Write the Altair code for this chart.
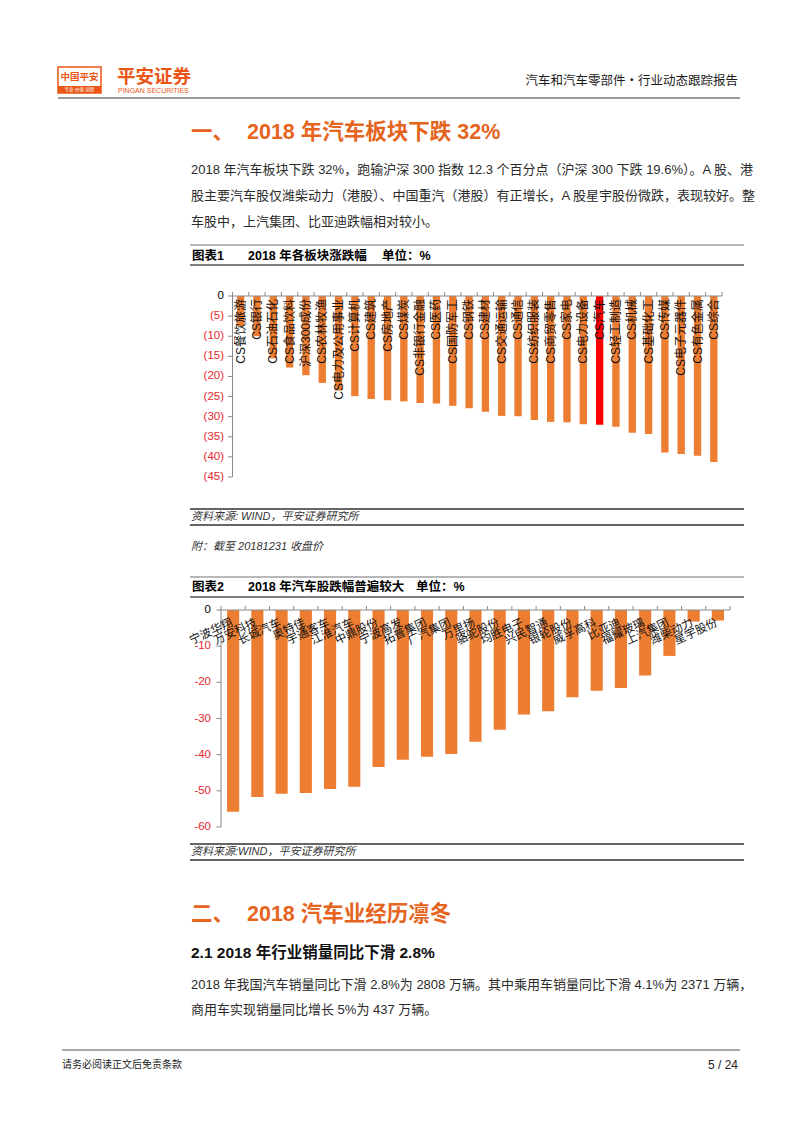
import altair as alt
import pandas as pd

FONT = "Liberation Sans, Noto Sans CJK SC"
M = 8  # page margin of the html body

# ---------------- data ----------------
sectors = ["CS餐饮旅游", "CS银行", "CS石油石化", "CS食品饮料", "沪深300成份", "CS农林牧渔",
           "CS电力及公用事业", "CS计算机", "CS建筑", "CS房地产", "CS煤炭", "CS非银行金融",
           "CS医药", "CS国防军工", "CS钢铁", "CS建材", "CS交通运输", "CS通信", "CS纺织服装",
           "CS商贸零售", "CS家电", "CS电力设备", "CS汽车", "CS轻工制造", "CS机械",
           "CS基础化工", "CS传媒", "CS电子元器件", "CS有色金属", "CS综合"]
sector_chg = [-7.5, -10.0, -15.5, -17.8, -19.7, -21.6, -23.5, -24.9, -25.6, -25.9, -26.2, -26.6,
              -26.7, -27.3, -27.9, -28.8, -29.8, -29.9, -30.8, -31.3, -31.4, -31.9, -32.0, -32.5,
              -34.0, -34.3, -38.9, -39.3, -39.7, -41.3]
highlight = "CS汽车"
y1_ticks = [0, -5, -10, -15, -20, -25, -30, -35, -40, -45]
y1_labels = ["0", "(5)", "(10)", "(15)", "(20)", "(25)", "(30)", "(35)", "(40)", "(45)"]

stocks = ["宁波华翔", "万安科技", "长城汽车", "奥特佳", "宇通客车", "江淮汽车", "中鼎股份",
          "宁波高发", "拓普集团", "广汽集团", "万里扬", "骆驼股份", "均胜电子", "兴民智通",
          "银轮股份", "威孚高科", "比亚迪", "福耀玻璃", "上汽集团", "潍柴动力", "星宇股份"]
stock_ret = [-55.8, -51.7, -50.8, -50.6, -49.5, -48.9, -43.4, -41.4, -40.6, -39.8, -36.4,
             -33.1, -28.9, -28.0, -24.1, -22.3, -21.6, -18.1, -12.7, -3.2, -2.9]
y2_ticks = [0, -10, -20, -30, -40, -50, -60]
y2_labels = ["0", "-10", "-20", "-30", "-40", "-50", "-60"]

# ---------------- styles ----------------
ORANGE_BAR = "#ED7D31"
RED_BAR = "#FF0000"
AXIS_RED = "#E8262B"
AXIS_GRAY = "#8a8a8a"
TITLE_ORANGE = "#E5641E"
LOGO_ORANGE = "#EA5514"
TEXT = "#2b2b2b"


def P(v):
    return v - M


def text_layer(rows, size, color=TEXT, weight="normal", style="normal", align="left",
               baseline="middle", font=FONT):
    df = pd.DataFrame([{"x": P(x), "y": P(y), "t": t} for x, y, t in rows])
    return alt.Chart(df).mark_text(fontSize=size, color=color, fontWeight=weight,
                                   fontStyle=style, align=align, baseline=baseline,
                                   font=font).encode(
        x=alt.X("x:Q", scale=None, axis=None),
        y=alt.Y("y:Q", scale=None, axis=None),
        text="t:N")


def rule_layer(rows, color, width):
    df = pd.DataFrame([{"x": P(a), "y": P(b), "x2": P(c), "y2": P(d)} for a, b, c, d in rows])
    return alt.Chart(df).mark_rule(color=color, strokeWidth=width).encode(
        x=alt.X("x:Q", scale=None, axis=None),
        y=alt.Y("y:Q", scale=None, axis=None),
        x2="x2:Q", y2="y2:Q")


def rect_layer(rows, fill, stroke=None, sw=0):
    df = pd.DataFrame([{"x": P(a), "y": P(b), "x2": P(c), "y2": P(d)} for a, b, c, d in rows])
    kw = dict(fill=fill)
    if stroke:
        kw.update(stroke=stroke, strokeWidth=sw)
    return alt.Chart(df).mark_rect(**kw).encode(
        x=alt.X("x:Q", scale=None, axis=None),
        y=alt.Y("y:Q", scale=None, axis=None),
        x2="x2:Q", y2="y2:Q")


def bar_chart(cats, vals, field, vfield, x0, x1, y0, y1, dmin, ticks, labels, pad_inner,
              label_axis_x, label_angle, label_y, label_dx, label_size, hl=None):
    df = pd.DataFrame({field: cats, vfield: vals})
    xs = alt.Scale(domain=cats, range=[P(x0), P(x1)], paddingInner=pad_inner,
                   paddingOuter=pad_inner / 2)
    xt = alt.Scale(domain=cats, range=[P(x0), P(x1)], paddingInner=0, paddingOuter=0)
    ys = alt.Scale(domain=[dmin, 0], range=[P(y1), P(y0)], nice=False)
    if hl:
        col = alt.condition(alt.datum[field] == hl, alt.value(RED_BAR), alt.value(ORANGE_BAR))
    else:
        col = alt.value(ORANGE_BAR)
    bars = alt.Chart(df).mark_bar().encode(
        x=alt.X(f"{field}:N", scale=xs, axis=None, sort=None),
        y=alt.Y(f"{vfield}:Q", scale=ys, axis=None),
        color=col)
    dty = pd.DataFrame({"v": ticks, "lab": labels})
    ytick = alt.Chart(dty).mark_rule(color=AXIS_GRAY, strokeWidth=1).encode(
        y=alt.Y("v:Q", scale=ys, axis=None),
        x=alt.value(P(x0 - 4.5)), x2=alt.value(P(x0)))
    ylab = alt.Chart(dty).mark_text(align="right", baseline="middle", fontSize=11.5,
                                    font=FONT).encode(
        y=alt.Y("v:Q", scale=ys, axis=None),
        x=alt.value(P(label_axis_x)),
        text="lab:N",
        color=alt.condition("datum.v < 0", alt.value(AXIS_RED), alt.value("#000000")))
    xtick = alt.Chart(df).mark_rule(color=AXIS_GRAY, strokeWidth=1).encode(
        x=alt.X(f"{field}:N", scale=xt, axis=None, bandPosition=0, sort=None),
        y=alt.value(P(y0 - 4)), y2=alt.value(P(y0)))
    xtick_end = alt.Chart(df.tail(1)).mark_rule(color=AXIS_GRAY, strokeWidth=1).encode(
        x=alt.X(f"{field}:N", scale=xt, axis=None, bandPosition=1, sort=None),
        y=alt.value(P(y0 - 4)), y2=alt.value(P(y0)))
    dom = rule_layer([(x0, y0, x0, y1), (x0, y0, x1, y0)], AXIS_GRAY, 1)
    cl = alt.Chart(df).mark_text(angle=label_angle, align="right", baseline="middle",
                                 fontSize=label_size, font=FONT, color="#111111",
                                 dx=label_dx).encode(
        x=alt.X(f"{field}:N", scale=xs, axis=None, sort=None),
        y=alt.value(P(label_y)),
        text=f"{field}:N")
    return [bars, dom, ytick, xtick, xtick_end, ylab, cl]


layers = []

# ---------------- header ----------------
layers.append(rect_layer([(58, 67, 101, 93)], "#FFFFFF", LOGO_ORANGE, 1.5))
layers.append(rect_layer([(58, 86, 101, 93)], LOGO_ORANGE))
layers.append(text_layer([(79.5, 77, "中国平安")], 9.5, LOGO_ORANGE, "bold", align="center"))
layers.append(text_layer([(79.5, 89.6, "专业·价值·创新")], 4.5, "#FFFFFF", align="center"))
layers.append(text_layer([(117, 77, "平安证券")], 18.5, LOGO_ORANGE, "bold"))
layers.append(text_layer([(118, 90.5, "PINGAN SECURITIES")], 7, LOGO_ORANGE))
layers.append(text_layer([(738, 81, "汽车和汽车零部件・行业动态跟踪报告")], 12.5, "#1a1a1a",
                         align="right"))
layers.append(rule_layer([(58, 98, 740, 98)], "#9a9a9a", 2))

# ---------------- section 1 ----------------
layers.append(text_layer([(191, 133, "一、"), (247, 133, "2018 年汽车板块下跌 32%")], 21.5,
                         TITLE_ORANGE, "bold"))
layers.append(text_layer([
    (191, 170, "2018 年汽车板块下跌 32%，跑输沪深 300 指数 12.3 个百分点（沪深 300 下跌 19.6%）。A 股、港"),
    (191, 196, "股主要汽车股仅潍柴动力（港股）、中国重汽（港股）有正增长，A 股星宇股份微跌，表现较好。整"),
    (191, 222, "车股中，上汽集团、比亚迪跌幅相对较小。"),
], 13, TEXT))

# chart 1 caption
layers.append(rule_layer([(190, 245, 744, 245)], "#a0a0a0", 1.5))
layers.append(rule_layer([(190, 265, 744, 265)], "#555555", 1.5))
layers.append(text_layer([(192, 256, "图表1"), (248, 256, "2018 年各板块涨跌幅"),
                          (382, 256, "单位：%")], 12.5, "#000000", "bold"))

layers += bar_chart(sectors, sector_chg, "sector", "chg", 232.5, 722, 296, 477, -45,
                    y1_ticks, y1_labels, 0.55, 224, 270, 299, 0, 12, hl=highlight)

layers.append(rule_layer([(190, 509, 744, 509), (190, 525, 744, 525)], "#333333", 1.5))
layers.append(text_layer([(191, 517, "资料来源: WIND，平安证券研究所")], 11, "#333333",
                         style="italic"))
layers.append(text_layer([(191, 547, "附：截至 20181231 收盘价")], 11, "#333333",
                         style="italic"))

# chart 2 caption
layers.append(rule_layer([(190, 577, 744, 577)], "#a0a0a0", 1.5))
layers.append(rule_layer([(190, 597, 744, 597)], "#555555", 1.5))
layers.append(text_layer([(192, 587, "图表2"), (248, 587, "2018 年汽车股跌幅普遍较大"),
                          (416, 587, "单位：%")], 12.5, "#000000", "bold"))

layers += bar_chart(stocks, stock_ret, "stock", "ret", 221, 730, 610, 827, -60,
                    y2_ticks, y2_labels, 0.5, 211, 335, 622, -1, 11.5)

layers.append(rule_layer([(190, 844, 744, 844), (190, 860, 744, 860)], "#333333", 1.5))
layers.append(text_layer([(191, 852, "资料来源:WIND，平安证券研究所")], 11, "#333333",
                         style="italic"))

# ---------------- section 2 ----------------
layers.append(text_layer([(191, 915, "二、"), (247, 915, "2018 汽车业经历凛冬")], 21.5,
                         TITLE_ORANGE, "bold"))
layers.append(text_layer([(191, 953, "2.1 2018 年行业销量同比下滑 2.8%")], 15.5, "#111111",
                         "bold"))
layers.append(text_layer([
    (191, 985, "2018 年我国汽车销量同比下滑 2.8%为 2808 万辆。其中乘用车销量同比下滑 4.1%为 2371 万辆，"),
    (191, 1010, "商用车实现销量同比增长 5%为 437 万辆。"),
], 13, TEXT))

# ---------------- footer ----------------
layers.append(rule_layer([(62, 1050, 740, 1050)], "#8a8a8a", 1.5))
layers.append(text_layer([(62, 1065, "请务必阅读正文后免责条款")], 10, "#222222"))
layers.append(text_layer([(738, 1065, "5 / 24")], 12, "#222222", align="right"))

chart = alt.layer(*layers).resolve_scale(
    x="independent", y="independent", color="independent"
).properties(
    width=786, height=1117, autosize="none", padding=0
).configure_view(strokeWidth=0)

chart.save("out.html", embed_options={"renderer": "svg", "actions": False})
